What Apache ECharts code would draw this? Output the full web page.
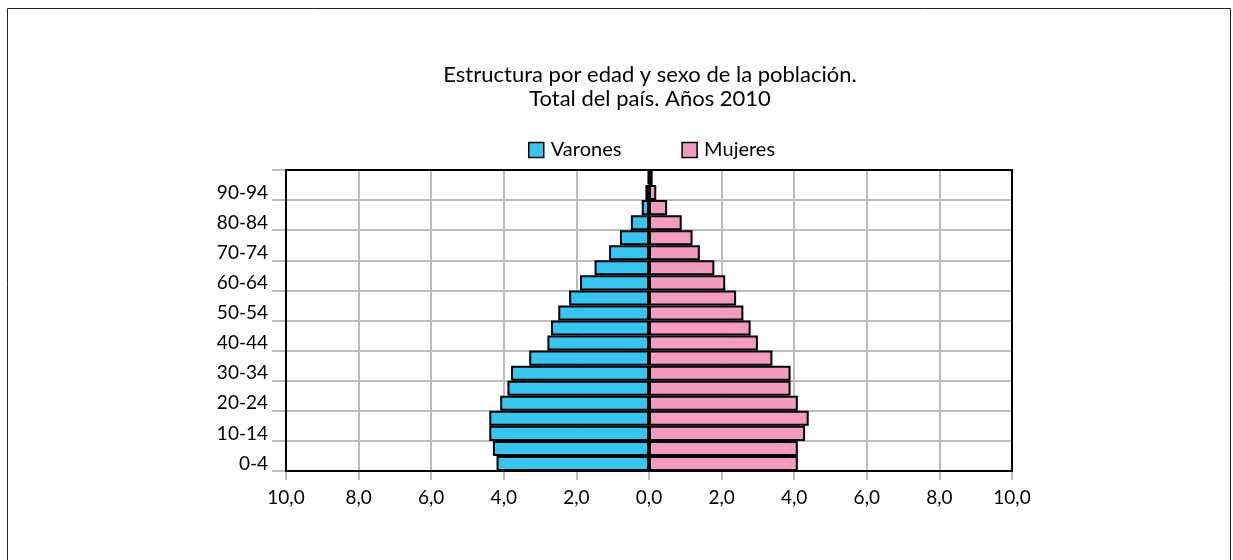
<!DOCTYPE html>
<html>
<head>
<meta charset="utf-8">
<title>Estructura por edad y sexo</title>
<script src="https://cdn.jsdelivr.net/npm/echarts@6/dist/echarts.min.js"></script>
<style>
  html, body { margin: 0; padding: 0; background: #fff; }
  #chart { width: 1233px; height: 560px; }
</style>
</head>
<body>
<div id="chart"></div>
<script>
// grupos de edad (de abajo hacia arriba)
var grupos = ['0-4', '5-9', '10-14', '15-19', '20-24', '25-29', '30-34', '35-39', '40-44', '45-49',
  '50-54', '55-59', '60-64', '65-69', '70-74', '75-79', '80-84', '85-89', '90-94', '95-99']
// porcentaje de la población
var varones = [4.2, 4.3, 4.4, 4.4, 4.1, 3.9, 3.8, 3.3, 2.8, 2.7,
  2.5, 2.2, 1.9, 1.5, 1.1, 0.8, 0.5, 0.2, 0.1, 0.03]
var mujeres = [4.1, 4.1, 4.3, 4.4, 4.1, 3.9, 3.9, 3.4, 3.0, 2.8,
  2.6, 2.4, 2.1, 1.8, 1.4, 1.2, 0.9, 0.5, 0.2, 0.1]
var ticksX = [-10, -8, -6, -4, -2, 0, 2, 4, 6, 8, 10]

var fuente = 'Lato, "Open Sans", sans-serif'
// area del grafico
var G = { left: 286, top: 170, right: 221, bottom: 89 }
var chart = echarts.init(document.getElementById('chart'))

chart.setOption({
  animation: false,
  textStyle: { fontFamily: fuente, color: '#000' },
  graphic: [
    // marco exterior
    {
      type: 'rect',
      shape: { x: 7.5, y: 8.5, width: 1223, height: 600 },
      style: { fill: 'none', stroke: '#222', lineWidth: 1 }
    },
    // titulo
    {
      type: 'text',
      x: 650,
      y: 63,
      style: {
        text: 'Estructura por edad y sexo de la población.\nTotal del país. Años 2010',
        align: 'center',
        verticalAlign: 'top',
        fontSize: 22,
        lineHeight: 24,
        fontFamily: fuente,
        fill: '#000'
      }
    },
    // borde del area de trazado, por encima de las lineas de division
    {
      type: 'rect',
      z: 100,
      shape: { x: G.left, y: G.top, width: 1233 - G.left - G.right, height: 560 - G.top - G.bottom },
      style: { fill: 'none', stroke: '#000', lineWidth: 2 }
    }
  ],
  legend: {
    data: ['Varones', 'Mujeres'],
    top: 140,
    left: 528,
    padding: 0,
    itemWidth: 15,
    itemHeight: 15,
    itemGap: 60,
    icon: 'rect',
    itemStyle: { borderColor: '#000', borderWidth: 1.5 },
    textStyle: { fontSize: 20, color: '#000', fontFamily: fuente, padding: [0, 0, 0, 2] }
  },
  grid: {
    left: G.left,
    right: G.right,
    top: G.top,
    bottom: G.bottom,
    show: false
  },
  xAxis: {
    type: 'value',
    min: ticksX[0],
    max: ticksX[ticksX.length - 1],
    interval: 2,
    axisLine: { show: true, onZero: false, lineStyle: { color: '#000', width: 2 } },
    axisTick: { show: true, length: 9, lineStyle: { color: '#bdbdbd', width: 2 } },
    splitLine: { show: true, showMinLine: false, showMaxLine: false, lineStyle: { color: '#bdbdbd', width: 2 } },
    axisLabel: {
      margin: 17,
      fontSize: 19,
      color: '#000',
      formatter: function (v) { return Math.abs(v).toFixed(1).replace('.', ',') }
    }
  },
  yAxis: {
    type: 'category',
    data: grupos,
    axisLine: { show: true, onZero: false, lineStyle: { color: '#000', width: 2 } },
    axisTick: { show: true, interval: 1, length: 14, lineStyle: { color: '#bdbdbd', width: 2 } },
    splitLine: { show: true, interval: 1, lineStyle: { color: '#bdbdbd', width: 2 } },
    axisLabel: { interval: 1, margin: 18, fontSize: 19, color: '#000', padding: [0, 0, 3, 0] }
  },
  series: [
    {
      name: 'Varones',
      type: 'bar',
      data: varones.map(function (v) { return -v }),
      barCategoryGap: '0%',
      barGap: '-100%',
      itemStyle: { color: '#36C5F0', borderColor: '#000', borderWidth: 2 }
    },
    {
      name: 'Mujeres',
      type: 'bar',
      data: mujeres,
      barCategoryGap: '0%',
      barGap: '-100%',
      itemStyle: { color: '#F39BC1', borderColor: '#000', borderWidth: 2 }
    }
  ]
})
</script>
</body>
</html>
